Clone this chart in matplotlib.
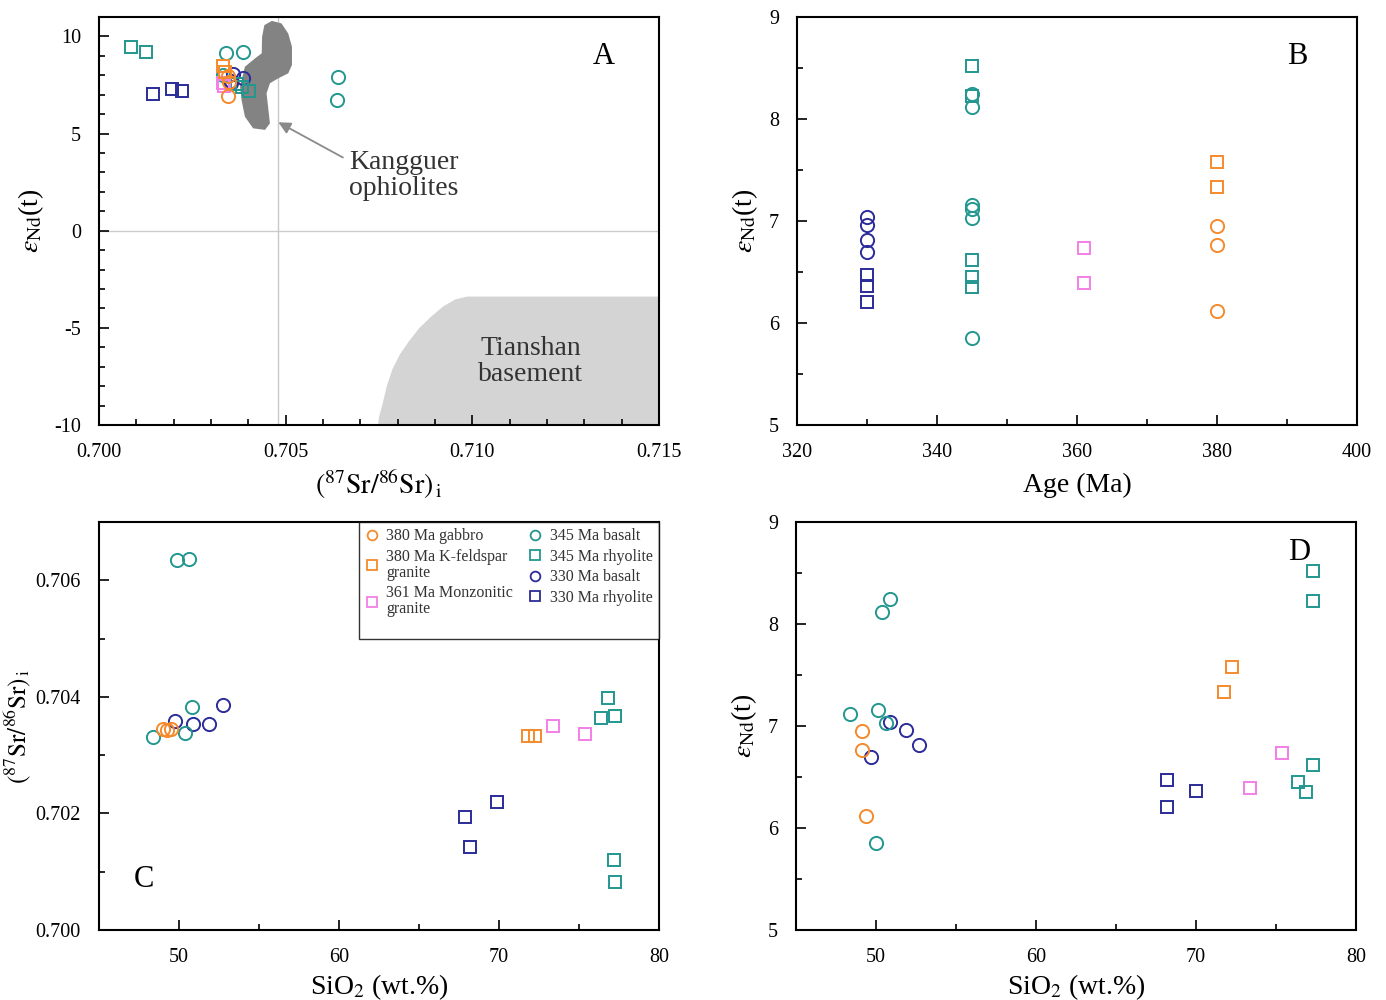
import matplotlib.pyplot as plt
from matplotlib.ticker import MultipleLocator, FormatStrFormatter
from matplotlib.lines import Line2D
from matplotlib.patches import Polygon

plt.rcParams['font.family'] = ['Liberation Serif', 'DejaVu Serif']
plt.rcParams['mathtext.fontset'] = 'stix'
plt.rcParams['axes.unicode_minus'] = False

# groups (legend order)
labels = ['380 Ma gabbro', '380 Ma K-feldspar\ngranite', '361 Ma Monzonitic\ngranite',
          '345 Ma basalt', '345 Ma rhyolite', '330 Ma basalt', '330 Ma rhyolite']
colors = ['#f58a2c', '#f58a2c', '#f27fe6', '#23978f', '#23978f', '#2b2b99', '#2b2b99']
markers = ['o', 's', 's', 'o', 's', 'o', 's']
ages = [380, 380, 361, 345, 345, 330, 330]

# panel A: (87Sr/86Sr)i vs eNd(t)
a_sr = [
    [0.70345, 0.70349, 0.70346],
    [0.70333, 0.70338],
    [0.70332, 0.70336],
    [0.70331, 0.70340, 0.70386, 0.70640, 0.70638],
    [0.70086, 0.70126, 0.70370, 0.70383, 0.70402],
    [0.70358, 0.70386, 0.70353, 0.70353],
    [0.70145, 0.70196, 0.70222],
]
a_end = [
    [7.95, 7.65, 6.95],
    [8.50, 8.15],
    [7.60, 7.45],
    [8.00, 9.14, 9.19, 7.91, 6.73],
    [9.45, 9.19, 7.55, 7.40, 7.19],
    [8.05, 7.85, 7.70, 7.60],
    [7.04, 7.29, 7.19],
]

# panels B and D: eNd(t)
end_t = [
    [6.95, 6.76, 6.12],
    [7.58, 7.33],
    [6.74, 6.39],
    [8.25, 8.12, 7.16, 7.12, 7.03, 5.85],
    [8.52, 8.23, 6.62, 6.45, 6.35],
    [7.04, 6.96, 6.81, 6.70],
    [6.47, 6.36, 6.21],
]
d_sio2 = [
    [49.1, 49.1, 49.4],
    [72.25, 71.75],
    [75.4, 73.4],
    [50.9, 50.4, 50.1, 48.4, 50.6, 50.0],
    [77.3, 77.3, 77.3, 76.4, 76.9],
    [50.9, 51.9, 52.7, 49.7],
    [68.2, 70.0, 68.2],
]

# panel C: SiO2 vs (87Sr/86Sr)i
c_sio2 = [
    [49.0, 49.5, 49.25],
    [71.8, 72.25],
    [73.4, 75.4],
    [49.9, 50.6, 50.8, 48.4, 50.4],
    [76.8, 76.4, 77.25, 77.2, 77.25],
    [49.75, 50.9, 51.9, 52.75],
    [67.9, 68.2, 69.9],
]
c_sr = [
    [0.70345, 0.70345, 0.70343],
    [0.70333, 0.70333],
    [0.70350, 0.70336],
    [0.70634, 0.70636, 0.70382, 0.70331, 0.70338],
    [0.70398, 0.70363, 0.70367, 0.70120, 0.70082],
    [0.70358, 0.70353, 0.70353, 0.70386],
    [0.70194, 0.70142, 0.70219],
]

# fields in panel A
kangguer_x = [0.70443, 0.70463, 0.70489, 0.70507, 0.70517, 0.70517, 0.70507, 0.70480, 0.70458,
              0.70449, 0.70454, 0.70458, 0.70445, 0.70413, 0.70391, 0.70382, 0.70378, 0.70391,
              0.70418, 0.70436, 0.70437]
kangguer_y = [10.58, 10.80, 10.67, 10.15, 9.47, 8.53, 8.10, 7.84, 7.59,
              7.07, 6.21, 5.53, 5.19, 5.27, 5.87, 6.73, 7.41, 8.44,
              8.87, 9.13, 9.98]
tianshan_x = [0.7150, 0.70986, 0.70954, 0.70922, 0.70890, 0.70859, 0.70830, 0.70806, 0.70786,
              0.70771, 0.70759, 0.70750, 0.70748, 0.7150]
tianshan_y = [-3.39, -3.39, -3.54, -3.90, -4.42, -4.99, -5.70, -6.37, -7.14,
              -8.00, -8.98, -9.60, -10.0, -10.0]

nd_label = r'$\varepsilon_{\rm Nd}$(t)'
sr_label = r'$\rm(^{87}Sr/^{86}Sr)_{\,i}$'
si_label = r'SiO$_2$ (wt.%)'

fig = plt.figure(figsize=(13.86, 10), dpi=100)
axA = fig.add_axes([0.0714, 0.575, 0.404, 0.408])
axB = fig.add_axes([0.575, 0.575, 0.404, 0.408])
axC = fig.add_axes([0.0714, 0.070, 0.404, 0.408])
axD = fig.add_axes([0.5743, 0.070, 0.404, 0.408])


def draw_group(ax, xs, ys, i):
    ms = 9.5 if markers[i] == 'o' else 8.5
    ax.plot(xs, ys, ls='none', marker=markers[i], ms=ms, mfc='none',
            mec=colors[i], mew=1.4, zorder=3)


def style(ax, xlabel, ylabel, letter, lx, ly, xpad=4, ypad=6, ysize=20):
    for s in ax.spines.values():
        s.set_linewidth(1.5)
    ax.tick_params(which='both', direction='in', top=False, right=False, labelsize=14.5, width=1.2)
    ax.tick_params(which='major', length=7, pad=13)
    ax.tick_params(which='minor', length=4)
    ax.set_xlabel(xlabel, fontsize=20, labelpad=xpad)
    ax.set_ylabel(ylabel, fontsize=ysize, labelpad=ypad)
    ax.text(lx, ly, letter, transform=ax.transAxes, fontsize=22, ha='center', va='center')


# panel A
axA.fill(tianshan_x, tianshan_y, color='#d4d4d4', lw=0, zorder=1)
axA.axhline(0, color='#cccccc', lw=1, zorder=0)
axA.axvline(0.7048, color='#c8c8c8', lw=1, zorder=0)
axA.add_patch(Polygon(list(zip(kangguer_x, kangguer_y)), closed=True, fc='#838383', ec='none', zorder=2))
for i in reversed(range(len(labels))):
    draw_group(axA, a_sr[i], a_end[i], i)
axA.annotate('', xy=(0.70474, 5.65), xytext=(0.70660, 3.7),
             arrowprops=dict(arrowstyle='-|>', color='#8a8a8a', lw=1.3, mutation_scale=18))
axA.text(0.70670, 2.85, 'Kangguer\nophiolites', fontsize=20, va='center', ha='left', color='#333333',
         linespacing=1.05)
axA.text(0.71157, -6.73, 'Tianshan\nbasement', fontsize=20, va='center', ha='center', color='#333333',
         linespacing=1.05)
axA.set_xlim(0.700, 0.715)
axA.set_ylim(-10, 11)
axA.xaxis.set_major_locator(MultipleLocator(0.005))
axA.xaxis.set_minor_locator(MultipleLocator(0.001))
axA.xaxis.set_major_formatter(FormatStrFormatter('%.3f'))
axA.yaxis.set_major_locator(MultipleLocator(5))
axA.yaxis.set_minor_locator(MultipleLocator(1))
style(axA, sr_label, nd_label, 'A', 0.902, 0.902)

# panel B
for i in reversed(range(len(labels))):
    draw_group(axB, [ages[i]] * len(end_t[i]), end_t[i], i)
axB.set_xlim(320, 400)
axB.set_ylim(5, 9)
axB.xaxis.set_major_locator(MultipleLocator(20))
axB.xaxis.set_minor_locator(MultipleLocator(10))
axB.yaxis.set_major_locator(MultipleLocator(1))
axB.yaxis.set_minor_locator(MultipleLocator(0.5))
style(axB, 'Age (Ma)', nd_label, 'B', 0.893, 0.902, xpad=8)

# panel C
for i in reversed(range(len(labels))):
    draw_group(axC, c_sio2[i], c_sr[i], i)
axC.set_xlim(45, 80)
axC.set_ylim(0.700, 0.707)
axC.xaxis.set_major_locator(MultipleLocator(10))
axC.xaxis.set_minor_locator(MultipleLocator(5))
axC.yaxis.set_major_locator(MultipleLocator(0.002))
axC.yaxis.set_minor_locator(MultipleLocator(0.001))
axC.yaxis.set_major_formatter(FormatStrFormatter('%.3f'))
style(axC, si_label, sr_label, 'C', 0.080, 0.123, ypad=2, ysize=18)

handles = []
for i in range(len(labels)):
    handles.append(Line2D([], [], ls='none', marker=markers[i], ms=7, mfc='none',
                          mec=colors[i], mew=1.3, label=labels[i]))
blank = Line2D([], [], ls='none', label=' ')
order = handles[:3] + [blank] + handles[3:]
leg = axC.legend(handles=order, loc='upper right', ncol=2, fontsize=11.5, frameon=True,
                 fancybox=False, borderaxespad=0, handlelength=0.8, handletextpad=0.5,
                 columnspacing=1.0, labelspacing=0.28, borderpad=0.4)
leg.get_frame().set_edgecolor('black')
leg.get_frame().set_linewidth(1.0)
for t in leg.get_texts():
    t.set_color('#333333')
    t.set_linespacing(1.0)
leg.get_texts()[3].set_fontsize(1)

# panel D
for i in reversed(range(len(labels))):
    draw_group(axD, d_sio2[i], end_t[i], i)
axD.set_xlim(45, 80)
axD.set_ylim(5, 9)
axD.xaxis.set_major_locator(MultipleLocator(10))
axD.xaxis.set_minor_locator(MultipleLocator(5))
axD.yaxis.set_major_locator(MultipleLocator(1))
axD.yaxis.set_minor_locator(MultipleLocator(0.5))
style(axD, si_label, nd_label, 'D', 0.898, 0.926)

fig.savefig('out.png', dpi=100)
